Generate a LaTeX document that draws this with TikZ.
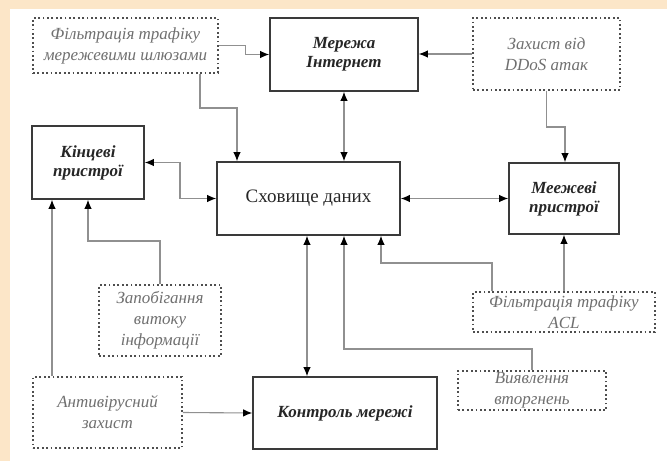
\documentclass[tikz,border=0pt]{standalone}
\usepackage{fontspec}
\setmainfont{Liberation Serif}
\usetikzlibrary{arrows.meta}
\definecolor{peach}{HTML}{FCE6C8}
\definecolor{boxline}{HTML}{3A3A3A}
\definecolor{wire}{HTML}{909090}
\definecolor{softtext}{HTML}{707070}
\tikzset{
  solidbox/.style={draw=boxline, line width=1.7pt, fill=white, align=center,
    inner sep=2pt, text=black!85, font=\fontsize{17}{19}\selectfont\bfseries\itshape},
  dotbox/.style={draw=boxline!90, line width=1.8pt, dash pattern=on 1.8pt off 2.6pt,
    align=center, inner sep=2pt, text=softtext, font=\fontsize{17}{21}\selectfont\itshape},
  tip/.style={Latex[length=9pt,width=7.5pt,color=black]},
  conn/.style={draw=wire, line width=1.1pt, -{Latex[length=9pt,width=7.5pt,color=black]}},
  conntwo/.style={draw=wire, line width=1.1pt,
    {Latex[length=9pt,width=7.5pt,color=black]}-{Latex[length=9pt,width=7.5pt,color=black]}},
}
\begin{document}
\begin{tikzpicture}[x=1pt,y=-1pt]
  % page frame: peach edge at top and left, white sheet
  \fill[peach] (0,0) rectangle (667,461);
  \fill[white] (10,9) rectangle (667,461);
  \useasboundingbox (0,0) rectangle (667,461);

  % main blocks
  \node[solidbox, minimum width=148pt, minimum height=73pt] (inet) at (344,54.5) {Мережа\\Інтернет};
  \node[solidbox, minimum width=112pt, minimum height=73pt] (end) at (88,162.5) {Кінцеві\\пристрої};
  \node[solidbox, minimum width=183pt, minimum height=73pt, font=\fontsize{19}{21}\selectfont] (store) at (308.5,198.5) {Сховище даних};
  \node[solidbox, minimum width=110pt, minimum height=71pt] (edge) at (564,198.5) {Меежеві\\пристрої};
  \node[solidbox, minimum width=184pt, minimum height=72pt] (ctrl) at (345,413) {Контроль мережі};

  % protection measures
  \node[dotbox, minimum width=185pt, minimum height=55pt] (fg) at (125.5,45.5) {Фільтрація трафіку\\мережевими шлюзами};
  \node[dotbox, minimum width=147pt, minimum height=72pt] (ddos) at (546.5,54) {Захист від\\DDoS атак};
  \node[dotbox, minimum width=122pt, minimum height=71pt] (leak) at (160,320.5) {Запобігання\\витоку\\інформації};
  \node[dotbox, minimum width=182pt, minimum height=40pt] (acl) at (564,312) {Фільтрація трафіку\\ACL};
  \node[dotbox, minimum width=148pt, minimum height=39pt] (detect) at (532,390.5) {Виявлення\\вторгнень};
  \node[dotbox, minimum width=149pt, minimum height=71pt] (av) at (107.5,412.5) {Антивірусний\\захист};

  % connections
  \draw[conn] (fg.east) -- ++(27,0) |- (inet.west);
  \draw[conn] (fg.south -| 200,0) |- (237,108) -- (store.north -| 237,0);
  \draw[conntwo] (inet.south) -- (store.north -| inet.south);
  \draw[conn] (ddos.west) -- (inet.east |- ddos.west);
  \draw[conn] (ddos.south) |- (565,127) -- (edge.north -| 565,0);
  \draw[conntwo] (end.east) -- (180,162.5) |- (store.west);
  \draw[conntwo] (store.east) -- (edge.west);
  \draw[conntwo] (store.south -| 307,0) -- (ctrl.north -| 307,0);
  \draw[conn] (detect.north) |- (344,349) -- (store.south -| 344,0);
  \draw[conn] (acl.north -| 492,0) |- (381,263) -- (store.south -| 381,0);
  \draw[conn] (acl.north) -- (edge.south);
  \draw[conn] (leak.north) |- (88,241) -- (end.south);
  \draw[conn] (av.north -| 52,0) -- (end.south -| 52,0);
  \draw[conn] (av.east) -- (ctrl.west);
\end{tikzpicture}
\end{document}
